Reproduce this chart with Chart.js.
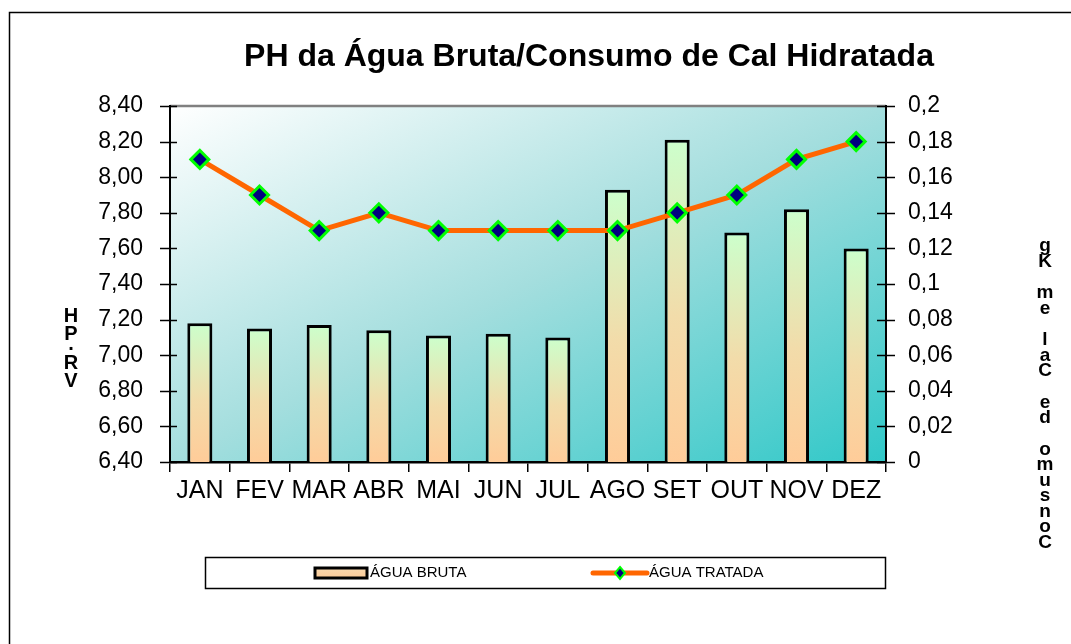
<!DOCTYPE html>
<html>
<head>
<meta charset="utf-8">
<script src="https://cdn.jsdelivr.net/npm/chart.js@4.4.0/dist/chart.umd.min.js"></script>
<style>
  html, body { margin: 0; padding: 0; background: #fff; }
  #wrap { width: 1071px; height: 644px; }
</style>
</head>
<body>
<div id="wrap"><canvas id="phChart" width="1071" height="644"></canvas></div>
<script>
// Dados
const months = ['JAN', 'FEV', 'MAR', 'ABR', 'MAI', 'JUN', 'JUL', 'AGO', 'SET', 'OUT', 'NOV', 'DEZ'];
const aguaBruta = [7.18, 7.15, 7.17, 7.14, 7.11, 7.12, 7.10, 7.93, 8.21, 7.69, 7.82, 7.60];
const aguaTratada = [0.17, 0.15, 0.13, 0.14, 0.13, 0.13, 0.13, 0.13, 0.14, 0.15, 0.17, 0.18];
const phTicks = [6.4, 6.6, 6.8, 7.0, 7.2, 7.4, 7.6, 7.8, 8.0, 8.2, 8.4];
const calTicks = [0, 0.02, 0.04, 0.06, 0.08, 0.1, 0.12, 0.14, 0.16, 0.18, 0.2];

const chartTitle = 'PH da Água Bruta/Consumo de Cal Hidratada';
const leftTitle = ['H', 'P', '.', 'R', 'V'];
const rightTitle = 'Consumo de Cal em Kg';

const FONT = "'Liberation Sans', Arial, sans-serif";

function fmtPH(v) { return v.toFixed(2).replace('.', ','); }
function fmtCal(v) { return String(+v.toFixed(2)).replace('.', ','); }

// gradiente de cada barra, do topo dela ate o eixo
function barFill(context) {
  const chart = context.chart;
  const area = chart.chartArea;
  if (!area) return '#ffcc99';
  const top = chart.scales.y.getPixelForValue(context.raw);
  const g = chart.ctx.createLinearGradient(0, top, 0, area.bottom);
  g.addColorStop(0, '#ccffcc');
  g.addColorStop(0.55, '#f2dcaa');
  g.addColorStop(1, '#ffcc99');
  return g;
}

const decor = {
  id: 'decor',
  beforeDraw(chart) {
    const { ctx, chartArea: a } = chart;
    ctx.save();
    ctx.fillStyle = '#fff';
    ctx.fillRect(0, 0, chart.width, chart.height);

    // moldura externa
    ctx.strokeStyle = '#000';
    ctx.lineWidth = 1.5;
    ctx.strokeRect(9.5, 12.5, chart.width + 20, chart.height + 20);

    // fundo da area de plotagem (diagonal no estilo do Excel)
    const w = a.right - a.left, h = a.bottom - a.top;
    const s = 2 * w * h / (w * w + h * h);
    const g = ctx.createLinearGradient(a.left, a.top, a.left + s * h, a.top + s * w);
    g.addColorStop(0, '#ffffff');
    g.addColorStop(0.5, '#a4dede');
    g.addColorStop(1, '#30c8c8');
    ctx.fillStyle = g;
    ctx.fillRect(a.left, a.top, w, h);

    ctx.strokeStyle = '#808080';
    ctx.lineWidth = 2.5;
    ctx.beginPath();
    ctx.moveTo(a.left, a.top);
    ctx.lineTo(a.right, a.top);
    ctx.stroke();
    ctx.restore();
  },
  afterDraw(chart) {
    const { ctx, chartArea: a, scales } = chart;
    ctx.save();

    // tracinhos cruzando os eixos Y
    ctx.strokeStyle = '#000';
    ctx.lineWidth = 1.5;
    scales.y.ticks.forEach(t => {
      const y = Math.round(scales.y.getPixelForValue(t.value)) + 0.5;
      ctx.beginPath();
      ctx.moveTo(a.left - 10, y);
      ctx.lineTo(a.left + 7, y);
      ctx.stroke();
    });
    scales.y1.ticks.forEach(t => {
      const y = Math.round(scales.y1.getPixelForValue(t.value)) + 0.5;
      ctx.beginPath();
      ctx.moveTo(a.right - 9, y);
      ctx.lineTo(a.right + 9, y);
      ctx.stroke();
    });

    // titulo
    ctx.fillStyle = '#000';
    ctx.font = 'bold 32px ' + FONT;
    ctx.textAlign = 'center';
    ctx.textBaseline = 'middle';
    ctx.fillText(chartTitle, 589, 57);

    // titulos dos eixos (empilhados)
    ctx.font = 'bold 20px ' + FONT;
    const leftY = [316, 334, 344, 363, 381];
    leftTitle.forEach((c, i) => ctx.fillText(c, 71, leftY[i]));

    ctx.font = 'bold 19px ' + FONT;
    const rev = rightTitle.split('').reverse();
    let y = 246;
    rev.forEach(c => {
      if (c === ' ') { y += 16; return; }
      ctx.fillText(c, 1045, y);
      y += 15.5;
    });

    // legenda
    ctx.lineWidth = 1.5;
    ctx.strokeStyle = '#000';
    ctx.strokeRect(205.5, 557.5, 680, 31);

    const sg = ctx.createLinearGradient(0, 567, 0, 579);
    sg.addColorStop(0, '#f7d9b0');
    sg.addColorStop(1, '#fcc995');
    ctx.fillStyle = sg;
    ctx.fillRect(315, 568, 52, 10);
    ctx.lineWidth = 3;
    ctx.strokeRect(315, 568, 52, 10);

    ctx.fillStyle = '#000';
    ctx.font = '15px ' + FONT;
    ctx.textAlign = 'left';
    ctx.fillText('ÁGUA BRUTA', 370, 573);

    ctx.strokeStyle = '#ff6600';
    ctx.lineWidth = 5;
    ctx.lineCap = 'round';
    ctx.beginPath();
    ctx.moveTo(593, 573);
    ctx.lineTo(647, 573);
    ctx.stroke();
    ctx.beginPath();
    ctx.moveTo(620, 567); ctx.lineTo(625, 573); ctx.lineTo(620, 579); ctx.lineTo(615, 573); ctx.closePath();
    ctx.fillStyle = '#000080';
    ctx.fill();
    ctx.strokeStyle = '#00ff00';
    ctx.lineWidth = 2;
    ctx.stroke();

    ctx.fillStyle = '#000';
    ctx.fillText('ÁGUA TRATADA', 649, 573);

    ctx.restore();
  }
};

new Chart(document.getElementById('phChart'), {
  data: {
    labels: months,
    datasets: [
      {
        type: 'line',
        label: 'ÁGUA TRATADA',
        data: aguaTratada,
        yAxisID: 'y1',
        order: 0,
        borderColor: '#ff6600',
        borderWidth: 5,
        tension: 0,
        pointStyle: 'rectRot',
        pointRadius: 9,
        pointBackgroundColor: '#000080',
        pointBorderColor: '#00ff00',
        pointBorderWidth: 3
      },
      {
        type: 'bar',
        label: 'ÁGUA BRUTA',
        data: aguaBruta,
        yAxisID: 'y',
        order: 1,
        backgroundColor: barFill,
        borderColor: '#000',
        borderWidth: 3,
        borderSkipped: false,
        barPercentage: 0.42,
        categoryPercentage: 1
      }
    ]
  },
  options: {
    responsive: false,
    animation: false,
    devicePixelRatio: 1,
    layout: { padding: { top: 106, bottom: 132, left: 0, right: 0 } },
    plugins: {
      legend: { display: false },
      title: { display: false },
      tooltip: { enabled: false }
    },
    scales: {
      x: {
        offset: true,
        afterFit: s => { s.height = 50; },
        grid: { display: true, offset: true, drawOnChartArea: false, drawTicks: true, tickLength: 10, color: '#000', lineWidth: 1.5 },
        border: { display: true, color: '#000', width: 2.5 },
        ticks: { color: '#000', font: { family: FONT, size: 25 }, padding: 4, maxRotation: 0, autoSkip: false }
      },
      y: {
        position: 'left',
        min: 6.4,
        max: 8.4,
        afterBuildTicks: s => { s.ticks = phTicks.map(v => ({ value: v })); },
        afterFit: s => { s.width = 170; },
        grid: { display: false },
        border: { display: true, color: '#000', width: 2 },
        ticks: { color: '#000', font: { family: FONT, size: 23 }, padding: 19, callback: v => fmtPH(v) }
      },
      y1: {
        position: 'right',
        min: 0,
        max: 0.2,
        afterBuildTicks: s => { s.ticks = calTicks.map(v => ({ value: v })); },
        afterFit: s => { s.width = 185; },
        grid: { display: false },
        border: { display: true, color: '#000', width: 2 },
        ticks: { color: '#000', font: { family: FONT, size: 23 }, padding: 14, callback: v => fmtCal(v) }
      }
    }
  },
  plugins: [decor]
});
</script>
</body>
</html>
